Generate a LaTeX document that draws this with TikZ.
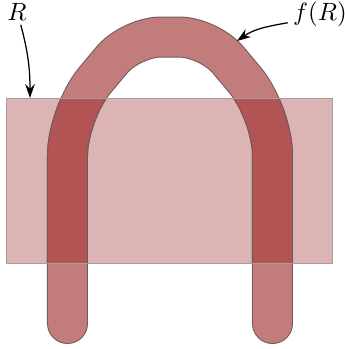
\documentclass[tikz,border=0pt]{standalone}
\usepackage{tikz}
\usetikzlibrary{arrows.meta}
\definecolor{rfill}{HTML}{DCB4B4}
\definecolor{bandfill}{HTML}{C27C7C}
\definecolor{bothfill}{HTML}{B35454}
\definecolor{edge}{HTML}{6E5A5A}

\begin{document}
\begin{tikzpicture}[x=0.4pt, y=0.4pt,
    bandedge/.style={draw=edge, line width=16.4pt, line cap=round},
    bandbody/.style={line width=15.6pt, line cap=round},
    lbl/.style={inner sep=0pt},
    pointer/.style={-{Stealth[length=5.5pt,width=3.8pt]}, line width=0.5pt}]

  \useasboundingbox (0,0) rectangle (345,349);

  % the set R
  \fill[rfill] (7,86) rectangle (333,251);

  % its image f(R), a bent strip
  \def\bandpath{(67.5,25.5) [rounded corners=17pt] -- (67.5,236) [rounded corners=12pt] -- (131,312)
    -- (209,312) [rounded corners=17pt] -- (272.5,236) -- (272.5,25.5)}
  \draw[bandedge] \bandpath;
  \draw[bandbody, draw=bandfill] \bandpath;

  % where the two overlap
  \begin{scope}
    \clip (7,86) rectangle (333,251);
    \draw[bandedge] \bandpath;
    \draw[bandbody, draw=bothfill] \bandpath;
  \end{scope}
  \draw[edge!60, line width=0.4pt] (7,86) rectangle (333,251);

  % labels
  \node[lbl] (rlab) at (17,337) {$R$};
  \node[lbl] (flab) at (320,335) {$f(R)$};
  \coordinate (rtip) at (30,251);
  \coordinate (ftip) at (237,308);

  \draw[pointer] ([shift={(1.5pt,-1.5pt)}]rlab.south) to[out=-75, in=90] (rtip);
  \draw[pointer] ([shift={(-2pt,-3.5pt)}]flab.west) to[out=190, in=35] (ftip);
\end{tikzpicture}
\end{document}
